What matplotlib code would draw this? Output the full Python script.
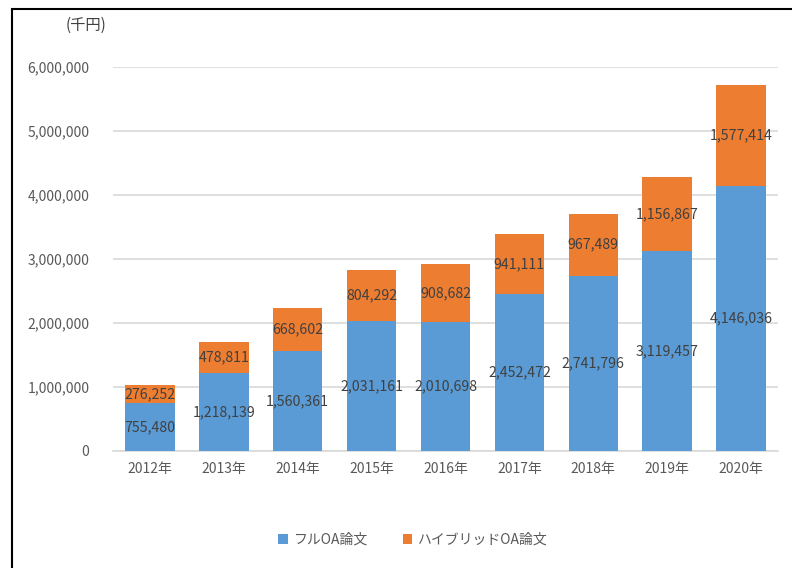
import matplotlib
matplotlib.use("Agg")
import matplotlib.pyplot as plt
from matplotlib.patches import Rectangle

plt.rcParams['font.family'] = ['Noto Sans CJK JP', 'DejaVu Sans']

years = ['2012年', '2013年', '2014年', '2015年', '2016年', '2017年', '2018年', '2019年', '2020年']
full_oa = [755480, 1218139, 1560361, 2031161, 2010698, 2452472, 2741796, 3119457, 4146036]
hybrid_oa = [276252, 478811, 668602, 804292, 908682, 941111, 967489, 1156867, 1577414]
series_names = ['フルOA論文', 'ハイブリッドOA論文']
yticks = [0, 1000000, 2000000, 3000000, 4000000, 5000000, 6000000]

blue = '#5B9BD5'
orange = '#ED7D31'
txt = '#595959'

fig = plt.figure(figsize=(7.92, 5.68), dpi=100)
ax = fig.add_axes([113/792, 1-451/568, (778-113)/792, (451-67)/568])

x = list(range(len(years)))
b1 = ax.bar(x, full_oa, width=0.67, color=blue, zorder=3, label=series_names[0])
b2 = ax.bar(x, hybrid_oa, width=0.67, bottom=full_oa, color=orange, zorder=3, label=series_names[1])

for i in x:
    ax.text(i, full_oa[i]/2, f'{full_oa[i]:,}', ha='center', va='center', fontsize=10.2, color='#404040', zorder=4)
    ax.text(i, full_oa[i] + hybrid_oa[i]/2, f'{hybrid_oa[i]:,}', ha='center', va='center', fontsize=10.2, color='#404040', zorder=4)

ax.set_xlim(-0.5, len(years)-0.5)
ax.set_ylim(0, 6000000)
ax.set_yticks(yticks)
ax.set_yticklabels([f'{v:,}' for v in yticks], fontsize=10, color=txt)
ax.set_xticks(x)
ax.set_xticklabels(years, fontsize=10, color=txt)
ax.tick_params(length=0, pad=8)
ax.tick_params(axis='y', pad=17)
ax.grid(axis='y', color='#D9D9D9', linewidth=1.2, zorder=0)
for s in ['top', 'right', 'left']:
    ax.spines[s].set_visible(False)
ax.spines['bottom'].set_color('#D9D9D9')
ax.spines['bottom'].set_linewidth(1.2)

fig.text(66/792, 1-25/568, '(千円)', fontsize=11, color='#404040', va='center')

fig.legend(handles=[b1, b2], labels=series_names, loc='center', bbox_to_anchor=(413/792, 1-540/568),
           ncol=2, frameon=False, fontsize=10, handlelength=0.7, handleheight=0.7,
           columnspacing=2.5, handletextpad=0.4, labelcolor=txt)

fig.patches.append(Rectangle((12/792, -0.1), 1.0, 1-9/568+0.1, transform=fig.transFigure,
                             fill=False, edgecolor='black', linewidth=1.5))

fig.savefig('out.png', dpi=100)
